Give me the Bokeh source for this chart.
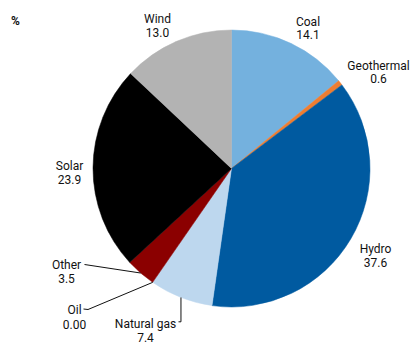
import math
from bokeh.plotting import figure
from bokeh.models import ColumnDataSource, Range1d
from bokeh.core.properties import value
from bokeh.embed import file_html
from bokeh.resources import INLINE

# Electricity generation shares, clockwise from 12 o'clock
categories = ["Coal", "Geothermal", "Hydro", "Natural gas", "Oil", "Other", "Solar", "Wind"]
shares = [14.1, 0.6, 37.6, 7.4, 0.0, 3.5, 23.9, 13.0]
share_text = ["14.1", "0.6", "37.6", "7.4", "0.00", "3.5", "23.9", "13.0"]
colors = ["#74b1de", "#ee7d31", "#005aa0", "#bdd7ee", "#5a0000", "#8b0000", "#000000", "#b3b3b3"]

W, H = 413, 345
CX, CY, R = 231.0, H - 168.0, 138.5
FONT = "Roboto"

p = figure(width=W, height=H, x_range=Range1d(0, W), y_range=Range1d(0, H),
           x_axis_type=None, y_axis_type=None, min_border=0,
           toolbar_location=None, output_backend="svg")
p.outline_line_color = None
p.grid.visible = False
p.background_fill_color = "white"
p.border_fill_color = "white"

total = sum(shares)
cum = [0.0]
for s in shares:
    cum.append(cum[-1] + s)


def clock_angle(frac):
    # fraction of the circle measured clockwise from the top -> bokeh angle
    return math.pi / 2 - 2 * math.pi * frac


def rim_point(frac):
    a = clock_angle(frac)
    return CX + R * math.cos(a), CY + R * math.sin(a)


starts, ends, fills, names = [], [], [], []
for i, s in enumerate(shares):
    if s <= 0:
        continue
    starts.append(clock_angle(cum[i + 1] / total))
    ends.append(clock_angle(cum[i] / total))
    fills.append(colors[i])
    names.append(categories[i])

src = ColumnDataSource(dict(start=starts, end=ends, color=fills, name=names))
p.wedge(x=CX, y=CY, radius=R, start_angle="start", end_angle="end",
        fill_color="color", line_color="color", line_width=0.5, source=src)

# label placement: (text centre x, baseline of name line, baseline of value line) in page pixels
label_pos = {
    "Coal": (307.5, 21.0, 34.3),
    "Geothermal": (378.0, 65.0, 77.8),
    "Hydro": (375.0, 248.0, 261.7),
    "Natural gas": (145.0, 323.5, 336.5),
    "Oil": (74.0, 309.0, 323.5),
    "Other": (66.0, 264.0, 278.3),
    "Solar": (69.0, 165.7, 179.3),
    "Wind": (157.0, 18.7, 31.7),
}

xs, ys, texts = [], [], []
for cat, txt in zip(categories, share_text):
    lx, b1, b2 = label_pos[cat]
    xs += [lx, lx]
    ys += [H - b1, H - b2]
    texts += [cat, txt]

p.text(x=xs, y=ys, text=texts, text_align="center", text_baseline="alphabetic",
       text_font=value(FONT), text_font_size="12px", text_color="#111111")

# unit marker
p.text(x=[15], y=[H - 20.0], text=["%"], text_align="center", text_baseline="alphabetic",
       text_font=value(FONT), text_font_size="12px", text_font_style="bold",
       text_color="#111111")

# leader lines for the small slices
idx = {c: i for i, c in enumerate(categories)}

# Other: straight line to the middle of its slice
ox, oy = rim_point((cum[idx["Other"]] + shares[idx["Other"]] / 2) / total)
p.line(x=[84.0, ox], y=[H - 264.0, oy], line_color="#111111", line_width=1)

# Oil: zero share, points at its position on the rim
oilx, oily = rim_point(cum[idx["Oil"]] / total)
p.line(x=[83.0, 87.5, oilx], y=[H - 308.5, H - 309.0, oily], line_color="#111111", line_width=1)

# Natural gas: elbow from the rim down to the label
nx, ny = rim_point((cum[idx["Natural gas"]] + shares[idx["Natural gas"]] / 2) / total)
p.line(x=[nx, nx, 178.0], y=[ny, H - 321.3, H - 321.3], line_color="#111111", line_width=1)

open("out.html", "w").write(file_html(p, INLINE))
